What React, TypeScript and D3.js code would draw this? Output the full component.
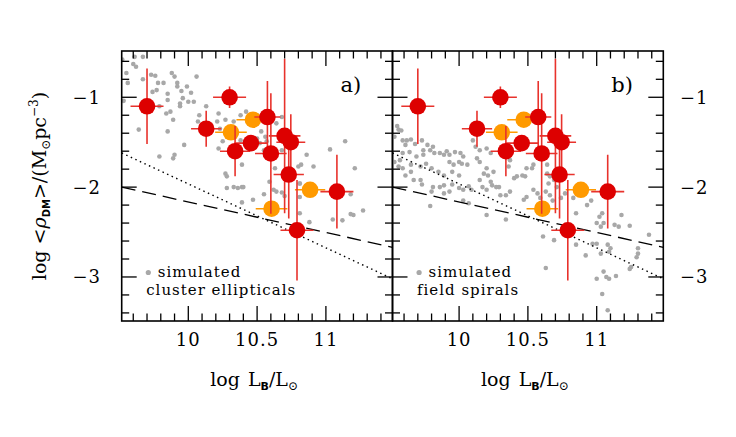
import React from "react";
import * as d3 from "d3";

// ---- observed galaxies ----
const obsLogL = [9.70, 10.30, 10.13, 10.575, 10.70, 10.745, 10.34, 10.455, 10.60, 10.73, 11.08, 10.79];
const obsLogRho = [-1.10, -1.00, -1.35, -1.22, -1.43, -1.50, -1.60, -1.51, -1.625, -1.86, -2.05, -2.48];
const obsXErr = [0.12, 0.12, 0.11, 0.095, 0.115, 0.105, 0.11, 0.12, 0.115, 0.11, 0.12, 0.12];
const obsYErr = [0.42, 0.12, 0.20, 0.40, 0.86, 0.31, 0.28, 0.08, 0.67, 0.49, 0.41, 0.56];

const orLogL = [10.47, 10.31, 10.885, 10.605];
const orLogRho = [-1.25, -1.39, -2.03, -2.24];
const orXErr = [0.12, 0.115, 0.11, 0.115];

// ---- simulated cluster ellipticals (panel a) ----
const ellX = [9.52, 9.61, 9.67, 9.60, 9.62, 9.55, 9.56, 9.53, 9.64, 9.67, 9.73, 9.76, 9.78, 9.82, 9.74, 9.77, 9.85, 9.88, 9.90, 9.92, 9.92, 9.95, 9.96, 9.99, 10.02, 10.06, 9.94, 10.00, 10.04, 9.79, 9.84, 9.85, 9.87, 9.89, 9.85, 9.94, 10.07, 10.08, 10.13, 10.22, 10.21, 10.23, 10.27, 10.33, 10.38, 10.42, 10.50, 10.52, 10.53, 10.56, 10.50, 10.64, 10.68, 9.79, 9.90, 9.89, 9.97, 10.22, 10.25, 10.27, 10.28, 10.38, 10.39, 10.42, 10.52, 10.57, 10.55, 10.63, 10.68, 10.86, 10.80, 10.82, 10.91, 11.03, 11.14, 11.21, 10.88, 10.81, 10.33, 10.39, 10.28, 10.36, 10.40, 10.39, 10.47, 10.55, 10.59, 10.62, 10.64, 10.68, 10.70, 10.81, 10.81, 10.81, 10.88, 11.05, 11.12, 11.18, 11.20, 11.27, 11.18];
const ellY = [-0.58, -0.55, -0.55, -0.63, -0.66, -0.73, -0.84, -1.04, -1.36, -0.80, -0.75, -0.76, -0.84, -0.84, -0.94, -0.92, -0.96, -0.73, -0.77, -0.84, -0.88, -0.93, -1.01, -0.88, -0.95, -0.77, -1.07, -1.05, -1.05, -1.10, -1.18, -1.03, -1.16, -1.25, -1.38, -1.10, -1.27, -1.20, -1.10, -1.18, -1.27, -1.35, -1.25, -1.27, -1.20, -1.16, -1.20, -1.25, -1.38, -1.44, -1.46, -1.29, -1.22, -1.66, -1.64, -1.68, -1.53, -1.57, -1.49, -1.85, -1.88, -1.48, -1.75, -1.51, -1.51, -1.49, -1.59, -1.79, -1.59, -1.64, -1.77, -1.75, -1.77, -1.58, -1.49, -1.79, -2.00, -1.96, -2.00, -2.00, -2.01, -2.01, -2.00, -2.17, -2.14, -2.08, -1.94, -2.03, -2.05, -2.06, -2.10, -2.11, -2.29, -1.96, -2.39, -2.36, -2.37, -2.30, -2.31, -2.26, -2.08];

// ---- simulated field spirals (panel b) ----
const spiX = [9.55, 9.56, 9.58, 9.53, 9.59, 9.62, 9.65, 9.61, 9.68, 9.73, 9.74, 9.77, 9.79, 9.81, 9.82, 9.86, 9.89, 9.91, 9.93, 9.97, 10.01, 10.03, 9.93, 9.96, 10.00, 10.02, 10.06, 9.74, 9.69, 9.64, 9.59, 9.57, 9.53, 9.56, 9.59, 9.65, 9.72, 9.76, 9.80, 9.85, 9.89, 9.95, 10.00, 10.10, 10.12, 10.15, 10.20, 10.23, 10.13, 10.15, 10.20, 10.18, 10.21, 10.25, 10.15, 10.23, 10.29, 10.36, 10.40, 10.42, 10.46, 10.48, 10.49, 10.53, 10.54, 10.37, 10.64, 10.64, 10.66, 10.65, 10.69, 10.71, 9.86, 9.89, 9.72, 9.67, 9.61, 9.65,
  9.73, 9.80, 9.81, 9.89, 9.93, 9.95, 10.00, 10.03, 10.07, 10.09, 9.79, 10.03, 10.07, 10.17, 10.20, 10.24, 10.27, 10.30, 10.34, 10.37, 10.47, 10.49, 10.54, 10.57, 10.59, 10.63, 10.66, 10.68, 10.74, 10.77, 10.83, 10.85, 10.93, 10.96, 11.00, 11.02, 11.04, 11.05, 11.03, 11.00, 11.03, 11.08, 11.10, 11.09, 11.13, 11.16, 11.18, 11.24, 11.30, 11.30, 11.29, 11.25, 11.24, 11.38, 10.97, 10.92, 10.85, 10.69, 10.61, 10.63, 10.20, 10.34, 11.00, 11.05, 11.07, 11.09, 11.14, 11.04, 11.08];
const spiY = [-1.32, -1.36, -1.37, -1.44, -1.48, -1.48, -1.47, -1.53, -1.52, -1.48, -1.59, -1.53, -1.59, -1.55, -1.62, -1.62, -1.64, -1.60, -1.64, -1.61, -1.62, -1.66, -1.72, -1.75, -1.72, -1.74, -1.75, -1.64, -1.66, -1.61, -1.62, -1.70, -1.72, -1.77, -1.79, -1.75, -1.77, -1.74, -1.79, -1.83, -1.87, -1.83, -1.87, -1.48, -1.55, -1.59, -1.57, -1.62, -1.68, -1.72, -1.79, -1.85, -1.87, -1.83, -1.92, -1.94, -2.00, -1.77, -1.90, -1.88, -1.87, -1.88, -1.79, -1.79, -1.75, -1.70, -1.75, -1.85, -1.88, -1.96, -1.92, -2.00, -2.00, -1.98, -1.92, -1.92, -1.87, -1.83,
  -1.97, -2.05, -2.00, -2.07, -2.05, -1.97, -2.01, -2.03, -1.99, -2.03, -2.21, -2.15, -2.18, -2.00, -2.03, -1.98, -2.00, -2.09, -2.09, -2.05, -2.14, -2.11, -2.03, -2.07, -2.12, -2.05, -2.09, -2.15, -2.12, -2.07, -2.12, -2.29, -2.20, -2.15, -2.40, -2.33, -2.29, -2.40, -2.44, -2.63, -2.74, -2.64, -2.68, -2.72, -2.42, -2.44, -2.31, -2.43, -2.68, -2.74, -2.78, -2.89, -2.91, -2.53, -2.63, -2.76, -2.64, -2.59, -2.55, -2.90, -2.31, -2.36, -3.02, -2.94, -3.00, -3.02, -2.99, -3.19, -3.37];

// ---- reference relations ----
const dashedLine = [[9.516, -2.0], [11.484, -2.67]];
const dottedLine = [[9.516, -1.62], [11.484, -3.02]];

const xTickMajor = [10, 10.5, 11];
const xTickLabels = ["10", "10.5", "11"];
const yTickMajor = [-1, -2, -3];
const yTickLabels = ["\u22121", "\u22122", "\u22123"];

const panels = [
  { key: "a", left: 121.7, label: "a)", legend1: "simulated", legend2: "cluster ellipticals", sx: ellX, sy: ellY },
  { key: "b", left: 392.5, label: "b)", legend1: "simulated", legend2: "field spirals", sx: spiX, sy: spiY },
];

const W = 270.8;
const TOP = 51;
const BOTTOM = 321;
const FONT = "DejaVu Serif";
const RED = "#dd0000";
const RED_BAR = "#e8322c";
const ORANGE = "#ff9a00";
const GRAY = "#a8a8a8";

function Panel({ p, isLeft, isRight }: any) {
  const x = d3.scaleLinear().domain([9.516, 11.484]).range([p.left, p.left + W]);
  const y = d3.scaleLinear().domain([-3.49, -0.485]).range([BOTTOM, TOP]);
  const minorX = d3.range(9.6, 11.45, 0.1).map((v) => Math.round(v * 10) / 10);
  const minorY = d3.range(-3.4, -0.5, 0.2).map((v) => Math.round(v * 10) / 10);
  const isMajX = (v: number) => Math.abs(v * 2 - Math.round(v * 2)) < 1e-6;
  const isMajY = (v: number) => Math.abs(v - Math.round(v)) < 1e-6;
  const line = d3.line<number[]>().x((d) => x(d[0])).y((d) => y(d[1]));
  const clipId = "clip" + p.key;
  const x0 = x.range()[0], x1 = x.range()[1];
  return (
    <g>
      <defs>
        <clipPath id={clipId}>
          <rect x={x0} y={TOP} width={W} height={BOTTOM - TOP} />
        </clipPath>
      </defs>
      <g clipPath={`url(#${clipId})`}>
        {p.sx.map((v: number, i: number) => (
          <circle key={i} cx={x(v)} cy={y(p.sy[i])} r={2.3} fill={GRAY} />
        ))}
        <path d={line(dashedLine as any) || ""} stroke="#000" strokeWidth={1.3} fill="none" strokeDasharray="14,7" />
        <path d={line(dottedLine as any) || ""} stroke="#000" strokeWidth={1.4} fill="none" strokeDasharray="1.5,3.5" />
        {orLogL.map((v, i) => (
          <line key={"oe" + i} x1={x(v - orXErr[i])} x2={x(v + orXErr[i])} y1={y(orLogRho[i])} y2={y(orLogRho[i])} stroke={ORANGE} strokeWidth={1.6} />
        ))}
        {orLogL.map((v, i) => (
          <circle key={"o" + i} cx={x(v)} cy={y(orLogRho[i])} r={8.3} fill={ORANGE} />
        ))}
        {obsLogL.map((v, i) => (
          <g key={"re" + i}>
            <line x1={x(v - obsXErr[i])} x2={x(v + obsXErr[i])} y1={y(obsLogRho[i])} y2={y(obsLogRho[i])} stroke={RED_BAR} strokeWidth={1.6} />
            <line x1={x(v)} x2={x(v)} y1={y(obsLogRho[i] - obsYErr[i])} y2={y(obsLogRho[i] + obsYErr[i])} stroke={RED_BAR} strokeWidth={1.6} />
          </g>
        ))}
        {obsLogL.map((v, i) => (
          <circle key={"r" + i} cx={x(v)} cy={y(obsLogRho[i])} r={8.3} fill={RED} />
        ))}
      </g>
      {minorX.map((v) => {
        const L = isMajX(v) ? 15 : 7.5;
        return (
          <g key={"xt" + v}>
            <line x1={x(v)} x2={x(v)} y1={BOTTOM} y2={BOTTOM - L} stroke="#000" strokeWidth={1.3} />
            <line x1={x(v)} x2={x(v)} y1={TOP} y2={TOP + L} stroke="#000" strokeWidth={1.3} />
          </g>
        );
      })}
      {minorY.map((v) => {
        const L = isMajY(v) ? 15 : 7.5;
        return (
          <g key={"yt" + v}>
            <line x1={x0} x2={x0 + L} y1={y(v)} y2={y(v)} stroke="#000" strokeWidth={1.3} />
            <line x1={x1} x2={x1 - L} y1={y(v)} y2={y(v)} stroke="#000" strokeWidth={1.3} />
          </g>
        );
      })}
      <rect x={x0} y={TOP} width={W} height={BOTTOM - TOP} fill="none" stroke="#000" strokeWidth={1.6} />
      {xTickMajor.map((v, i) => (
        <text key={"xl" + v} x={x(v)} y={346} textAnchor="middle" fontFamily={FONT} fontSize={18} letterSpacing={1}>
          {xTickLabels[i]}
        </text>
      ))}
      {isLeft &&
        yTickMajor.map((v, i) => (
          <text key={"yl" + v} x={101} y={y(v) + 6.5} textAnchor="end" fontFamily={FONT} fontSize={18} letterSpacing={1}>
            {yTickLabels[i]}
          </text>
        ))}
      {isRight &&
        yTickMajor.map((v, i) => (
          <text key={"yr" + v} x={680} y={y(v) + 6.5} textAnchor="start" fontFamily={FONT} fontSize={18} letterSpacing={1}>
            {yTickLabels[i]}
          </text>
        ))}
      <text x={x1 - 52} y={92} fontFamily={FONT} fontSize={21}>{p.label}</text>
      <circle cx={x0 + 26.6} cy={272.5} r={2.6} fill={GRAY} />
      <text x={x0 + 36} y={277} fontFamily={FONT} fontSize={15} letterSpacing={1}>{p.legend1}</text>
      <text x={x0 + 24.5} y={295} fontFamily={FONT} fontSize={15} letterSpacing={1}>{p.legend2}</text>
      <text x={(x0 + x1) / 2 - 3} y={386} textAnchor="middle" fontFamily={FONT} fontSize={19}>
        log<tspan dx={8}>L</tspan>
        <tspan fontSize={11} dy={4} fontFamily="DejaVu Sans" fontWeight="bold">B</tspan>
        <tspan dy={-4}>/L</tspan>
        <tspan fontSize={12} dy={4}>⊙</tspan>
      </text>
    </g>
  );
}

export default function App() {
  return (
    <svg width={736} height={437} style={{ position: "absolute", left: 0, top: 0, background: "#fff" }}>
      <rect x={0} y={0} width={736} height={437} fill="#fff" />
      {panels.map((p, i) => (
        <Panel key={p.key} p={p} isLeft={i === 0} isRight={i === panels.length - 1} />
      ))}
      <text transform="translate(46,186) rotate(-90)" textAnchor="middle" fontFamily={FONT} fontSize={19}>
        log &lt;<tspan fontStyle="italic">ρ</tspan>
        <tspan fontSize={10} dy={4} fontFamily="DejaVu Sans" fontWeight="bold">DM</tspan>
        <tspan dy={-4}>&gt;/(M</tspan>
        <tspan fontSize={12} dy={4}>⊙</tspan>
        <tspan dy={-4}>pc</tspan>
        <tspan fontSize={12} dy={-8}>−3</tspan>
        <tspan dy={8}>)</tspan>
      </text>
    </svg>
  );
}
